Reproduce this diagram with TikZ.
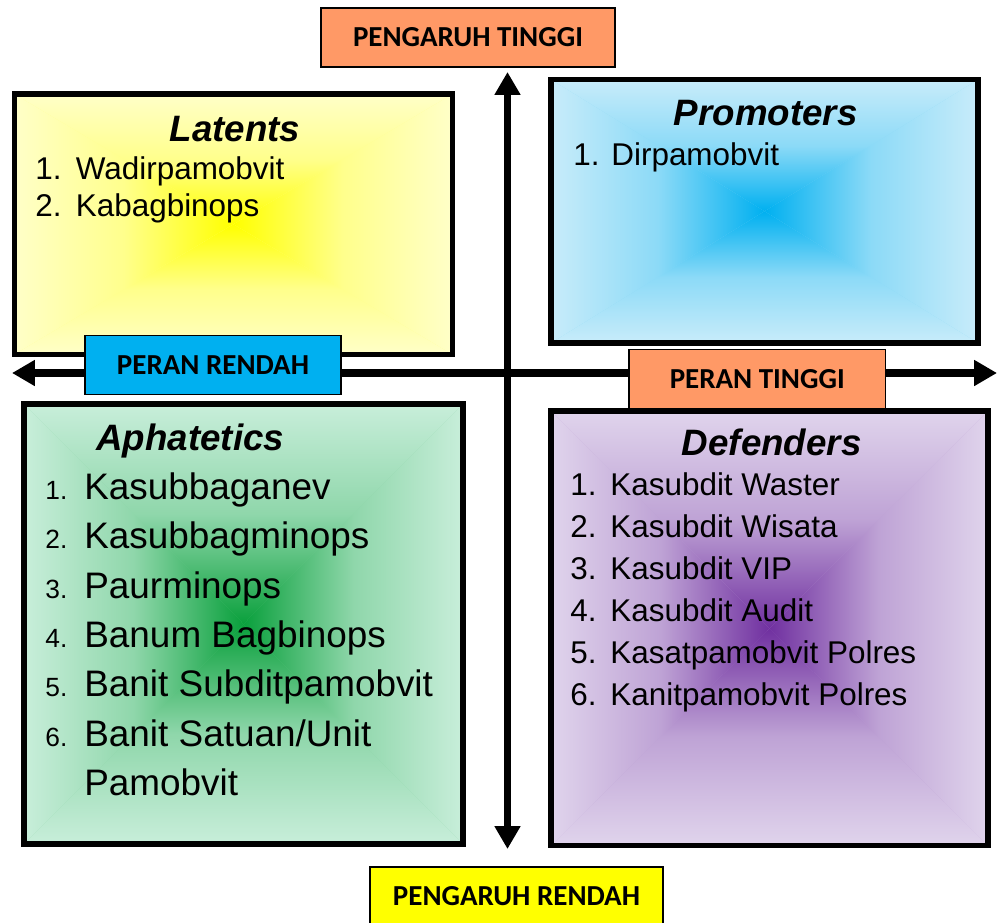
\documentclass[tikz,border=0pt]{standalone}
\usepackage{fontspec}
\setmainfont{Liberation Sans}
\newfontfamily\lblfont{Carlito}
\usetikzlibrary{arrows.meta,fit}

\definecolor{latedge}{RGB}{255,255,200}
\definecolor{latmid}{RGB}{255,255,0}
\definecolor{proedge}{RGB}{200,236,250}
\definecolor{promid}{RGB}{0,176,240}
\definecolor{aphedge}{RGB}{200,238,218}
\definecolor{aphmid}{RGB}{10,160,60}
\definecolor{defedge}{RGB}{224,212,236}
\definecolor{defmid}{RGB}{112,48,160}
\definecolor{lblorange}{RGB}{255,153,102}
\definecolor{lblblue}{RGB}{0,176,240}
\definecolor{lblyellow}{RGB}{255,255,0}

\begin{document}
\begin{tikzpicture}[x=0.02cm,y=-0.02cm,
  quad/.style 2 args={draw=black, line width=2.9pt, inner sep=0pt,
    path picture={
      \coordinate (m) at (path picture bounding box.center);
      \fill[#2!30!#1] (path picture bounding box.north west) rectangle (path picture bounding box.south east);
      \shade[top color=#1, bottom color=#2, middle color=#2!30!#1]
        (path picture bounding box.north west) -- (path picture bounding box.north east) -- (m) -- cycle;
      \shade[top color=#2, bottom color=#1, middle color=#2!30!#1]
        (path picture bounding box.south west) -- (path picture bounding box.south east) -- (m) -- cycle;
      \shade[left color=#1, right color=#2, middle color=#2!30!#1]
        (path picture bounding box.north west) -- (path picture bounding box.south west) -- (m) -- cycle;
      \shade[left color=#2, right color=#1, middle color=#2!30!#1]
        (path picture bounding box.north east) -- (path picture bounding box.south east) -- (m) -- cycle;
    }},
  lbl/.style={draw=black, line width=1.1pt, inner sep=0pt, fill=#1, minimum height=1.18cm,
    font=\lblfont\bfseries\fontsize{16.5}{19}\selectfont},
  axisline/.style={line width=4.3pt,
    arrows={Triangle[length=13pt,width=14pt]-Triangle[length=13pt,width=14pt]}},
  title/.style={anchor=base, inner sep=0pt, font=\fontsize{20.9}{25}\selectfont\bfseries\itshape},
  item/.style={anchor=base west, inner sep=0pt, font=\fontsize{17.9}{21}\selectfont},
  bigitem/.style={anchor=base west, inner sep=0pt, font=\fontsize{21}{25}\selectfont},
  bignum/.style={anchor=base west, inner sep=0pt, font=\fontsize{15}{18}\selectfont}]

\useasboundingbox (0,0) rectangle (998,923);

% axes
\coordinate (top) at (507.5,72);
\coordinate (bottom) at (507.5,849);
\coordinate (left) at (12,373);
\coordinate (right) at (997,373);
\draw[axisline] (bottom) -- (top);
\draw[axisline] (left) -- (right);

% quadrants
\node[quad={latedge}{latmid}, fit={(14.2,94) (452.5,354.5)}] (latents) {};
\node[quad={proedge}{promid}, fit={(551,79.5) (978,343)}] (promoters) {};
\node[quad={aphedge}{aphmid}, fit={(24,404) (463,844)}] (aphatetics) {};
\node[quad={defedge}{defmid}, fit={(551,411) (988,845.5)}] (defenders) {};

% latents
\node[title] (lat-title) at (235,141.7) {Latents};
\foreach \t [count=\i] in {Wadirpamobvit, Kabagbinops}
{
	\node[item] (lat-n\i) at (35,{142.6+36.7*\i}) {\i.};
	\node[item] (lat-t\i) at (75.5,{142.6+36.7*\i}) {\t};
}

% promoters
\node[title] (pro-title) at (765.7,125) {Promoters};
\node[item] (pro-n1) at (573,165) {1.};
\node[item] (pro-t1) at (611,165) {Dirpamobvit};

% aphatetics
\node[title, anchor=base west] (aph-title) at (96,450) {Aphatetics};
\foreach \t [count=\i] in {Kasubbaganev, Kasubbagminops, Paurminops, Banum Bagbinops, Banit Subditpamobvit, Banit Satuan/Unit}
{
	\node[bignum] (aph-n\i) at (45,{449.9+49.4*\i}) {\i.};
	\node[bigitem] (aph-t\i) at (84,{449.9+49.4*\i}) {\t};
}
\node[bigitem] (aph-t7) at (84,795.7) {Pamobvit};

% defenders
\node[title] (def-title) at (771.7,455) {Defenders};
\foreach \t [count=\i] in {Kasubdit Waster, Kasubdit Wisata, Kasubdit VIP, Kasubdit Audit, Kasatpamobvit Polres, Kanitpamobvit Polres}
{
	\node[item] (def-n\i) at (570,{453+42*\i}) {\i.};
	\node[item] (def-t\i) at (610,{453+42*\i}) {\t};
}

% axis labels
\node[lbl=lblorange, minimum width=5.88cm] (hi-inf) at (468,37.5) {PENGARUH TINGGI};
\node[lbl=lblblue, minimum width=5.12cm] (lo-role) at (213,365) {PERAN RENDAH};
\node[lbl=lblorange, minimum width=5.13cm] (hi-role) at (757.25,379) {PERAN TINGGI};
\node[lbl=lblyellow, minimum width=5.86cm, minimum height=1.16cm] (lo-inf) at (516.5,896) {PENGARUH RENDAH};
\end{tikzpicture}
\end{document}
